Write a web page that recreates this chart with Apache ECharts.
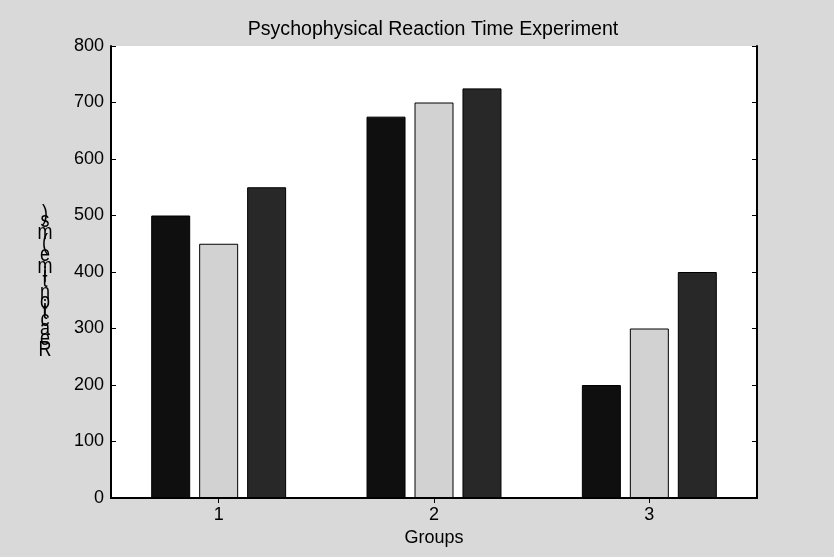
<!DOCTYPE html>
<html>
<head>
<meta charset="utf-8">
<script src="https://cdn.jsdelivr.net/npm/echarts@6/dist/echarts.min.js"></script>
<style>
  html, body { margin: 0; padding: 0; background: #d9d9d9; }
  #chart { width: 834px; height: 557px; }
</style>
</head>
<body>
<div id="chart"></div>
<script>
// Reaction times (ms) per group, three conditions each
const groups = ['1', '2', '3'];
const condA = [500, 675, 200];
const condB = [450, 700, 300];
const condC = [550, 725, 400];
const yTicks = { min: 0, max: 800, interval: 100 };

const titleText = 'Psychophysical Reaction Time Experiment';
const xLabelText = 'Groups';
const yLabelText = 'Reaction time (ms)';

const FONT = '"Liberation Sans", Arial, Helvetica, sans-serif';

// The y label is laid out along the axis with upright glyphs,
// each one stepped upward by its own horizontal advance.
function stackedLabel(text, cx, bottom, size, step, stretch) {
  const ctx = document.createElement('canvas').getContext('2d');
  ctx.font = size + 'px ' + FONT;
  const out = [];
  let acc = 0;
  for (const ch of text) {
    const adv = ctx.measureText(ch).width * step;
    const cy = bottom - acc - adv / 2;
    acc += adv;
    if (ch === ' ') continue;
    out.push({
      type: 'text',
      x: cx,
      y: cy,
      scaleY: stretch,
      originX: 0,
      originY: 0,
      style: {
        text: ch,
        fill: '#000',
        font: size + 'px ' + FONT,
        textAlign: 'center',
        textVerticalAlign: 'middle'
      },
      silent: true
    });
  }
  return out;
}

const chart = echarts.init(document.getElementById('chart'));

const barStyle = (color) => ({
  color: color,
  borderColor: '#000',
  borderWidth: 1
});

const axisLine = { show: true, lineStyle: { color: '#000', width: 2 } };
const labelStyle = { color: '#000', fontSize: 18, fontFamily: FONT };

chart.setOption({
  backgroundColor: '#d9d9d9',
  animation: false,
  title: {
    text: titleText,
    left: 428,
    textAlign: 'center',
    top: 15,
    textStyle: { color: '#000', fontSize: 19.6, fontWeight: 'normal', fontFamily: FONT }
  },
  grid: { left: 111, right: 77, top: 46, bottom: 59, show: true, backgroundColor: '#fff', borderWidth: 0 },
  xAxis: [
    {
      type: 'category',
      data: groups,
      position: 'bottom',
      boundaryGap: true,
      axisLine: axisLine,
      axisTick: { show: false },
      axisLabel: Object.assign({ margin: 8 }, labelStyle),
      name: xLabelText,
      nameLocation: 'middle',
      nameGap: 31,
      nameTextStyle: labelStyle,
      splitLine: { show: false }
    },
    {
      type: 'category',
      data: groups,
      position: 'top',
      boundaryGap: true,
      axisLine: axisLine,
      axisTick: { show: true, inside: true, alignWithLabel: true, length: 5, lineStyle: { color: '#000', width: 1 } },
      axisLabel: { show: false },
      splitLine: { show: false }
    }
  ],
  yAxis: [
    {
      type: 'value',
      min: yTicks.min,
      max: yTicks.max,
      interval: yTicks.interval,
      position: 'left',
      axisLine: axisLine,
      axisTick: { show: true, inside: true, length: 5, lineStyle: { color: '#000', width: 1 } },
      axisLabel: Object.assign({ margin: 7 }, labelStyle),
      splitLine: { show: false }
    },
    {
      type: 'value',
      min: yTicks.min,
      max: yTicks.max,
      interval: yTicks.interval,
      position: 'right',
      axisLine: axisLine,
      axisTick: { show: true, inside: true, length: 5, lineStyle: { color: '#000', width: 1 } },
      axisLabel: { show: false },
      splitLine: { show: false }
    }
  ],
  series: [
    { type: 'bar', data: condA, barWidth: 39, barGap: '23%', itemStyle: barStyle('#0f0f0f') },
    { type: 'bar', data: condB, barWidth: 39, barGap: '23%', itemStyle: barStyle('#d2d2d2') },
    { type: 'bar', data: condC, barWidth: 39, barGap: '23%', itemStyle: barStyle('#282828') }
  ],
  graphic: stackedLabel(yLabelText, 45, 356, 18, 0.96, 1.2)
});
</script>
</body>
</html>
